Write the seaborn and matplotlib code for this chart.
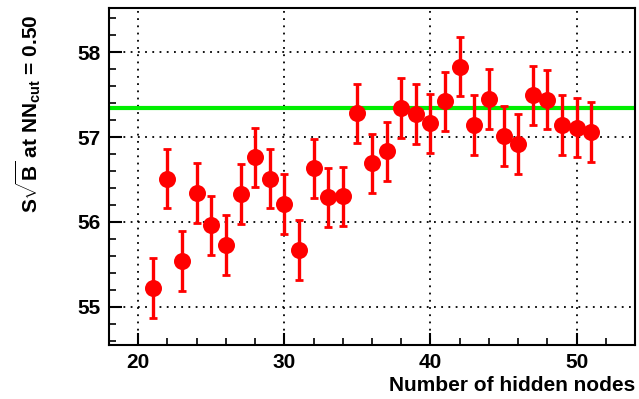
import matplotlib
matplotlib.use("Agg")
import matplotlib.pyplot as plt
import seaborn as sns
import pandas as pd
from matplotlib.ticker import MultipleLocator

hidden_nodes = list(range(21, 52))
significance = [55.22, 56.51, 55.54, 56.34, 55.96, 55.73, 56.33, 56.76, 56.51, 56.21,
                55.67, 56.63, 56.29, 56.30, 57.28, 56.69, 56.83, 57.34, 57.27, 57.16,
                57.42, 57.83, 57.14, 57.45, 57.01, 56.92, 57.49, 57.44, 57.14, 57.11,
                57.06]
errors = [0.35] * len(hidden_nodes)
reference_level = 57.34

df = pd.DataFrame({"nodes": hidden_nodes, "sig": significance, "err": errors})

sns.set_theme(style="white")
plt.rcParams["font.family"] = ["Liberation Sans", "DejaVu Sans"]
plt.rcParams["font.weight"] = "bold"
plt.rcParams["text.color"] = "black"
plt.rcParams["axes.labelcolor"] = "black"
plt.rcParams["xtick.color"] = "black"
plt.rcParams["ytick.color"] = "black"
plt.rcParams["mathtext.fontset"] = "custom"
plt.rcParams["mathtext.rm"] = "Liberation Sans:bold"
plt.rcParams["mathtext.bf"] = "Liberation Sans:bold"
plt.rcParams["mathtext.it"] = "Liberation Sans:bold"
plt.rcParams["mathtext.default"] = "bf"

fig = plt.figure(figsize=(6.39, 3.99), dpi=100)
ax = fig.add_axes([109 / 639, 1 - 345 / 399, (635 - 109) / 639, (345 - 8) / 399])

ax.axhline(reference_level, color="#00ee00", lw=3.0, zorder=2)
ax.errorbar(df["nodes"], df["sig"], yerr=df["err"], fmt="none", ecolor="red",
            elinewidth=2.4, capsize=3, capthick=2.0, zorder=3)
sns.scatterplot(data=df, x="nodes", y="sig", ax=ax, color="red", s=150,
                edgecolor="red", linewidth=0, zorder=4, legend=False)

ax.set_xlim(18, 54)
ax.set_ylim(54.55, 58.52)
ax.xaxis.set_major_locator(MultipleLocator(10))
ax.xaxis.set_minor_locator(MultipleLocator(2))
ax.yaxis.set_major_locator(MultipleLocator(1))
ax.yaxis.set_minor_locator(MultipleLocator(0.2))
ax.tick_params(which="both", direction="in", top=False, right=False,
               bottom=True, left=True, color="black", labelsize=15,
               labelcolor="black")
ax.tick_params(which="major", length=9, width=1.5)
ax.tick_params(which="minor", length=5, width=1.2)
for lab in ax.get_xticklabels() + ax.get_yticklabels():
    lab.set_fontweight("bold")
ax.tick_params(axis="x", pad=6)
ax.tick_params(axis="y", pad=6)

ax.grid(True, which="major", color="black", linestyle=(0, (1, 3)), linewidth=1.3)
for sp in ax.spines.values():
    sp.set_color("black")
    sp.set_linewidth(1.5)
    sp.set_visible(True)

ax.set_xlabel("Number of hidden nodes", fontsize=15, fontweight="bold",
              ha="right", color="black")
ax.xaxis.set_label_coords(1.0, -0.093)
ax.set_ylabel(r"S$\sqrt{B}$ at NN$_{cut}$ = 0.50", fontsize=15, fontweight="bold",
              ha="right", color="black")
ax.yaxis.set_label_coords(-0.125, 0.98)

fig.savefig("out.png", dpi=100)
